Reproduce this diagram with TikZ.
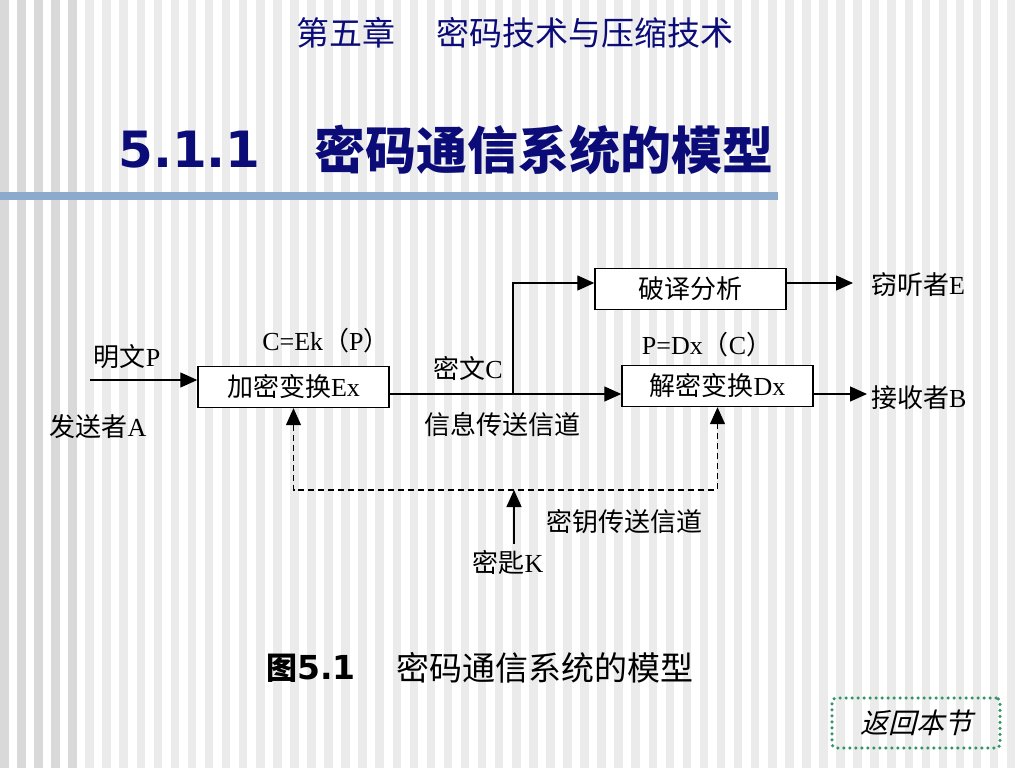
\documentclass[tikz,border=0pt]{standalone}
\usepackage{fontspec}
\setmainfont{Liberation Serif}
\newfontfamily\cjk{Noto Sans CJK SC}
\newfontfamily\cjkit[FakeSlant=0.25]{Noto Sans CJK SC}
\newfontfamily\tah{DejaVu Sans}
\usetikzlibrary{arrows.meta,calc}
\newcommand\setfs[1]{\fontsize{#1bp}{#1bp}\selectfont}
\newcommand\dfont{\setfs{26}}
\definecolor{navy}{RGB}{12,12,120}
\definecolor{stripedark}{RGB}{217,217,217}
\definecolor{stripelight}{RGB}{235,235,235}
\definecolor{barblue}{RGB}{140,170,204}
\definecolor{btngreen}{RGB}{51,150,105}
\begin{document}
\begin{tikzpicture}[x=1bp,y=-1bp,
  txt/.style={inner sep=0pt},
  box/.style={draw, line width=1.4bp, fill=white, minimum width=191bp, minimum height=41bp, inner sep=0pt, font=\dfont},
  lbl/.style={inner sep=0pt, font=\dfont},
  arr/.style={line width=1.3bp, -{Triangle[length=17bp,width=15bp]}},
  dsh/.style={line width=1.3bp, dash pattern=on 6bp off 4bp, {Triangle[length=17bp,width=15bp]}-{Triangle[length=17bp,width=15bp]}},
]
\useasboundingbox (0,0) rectangle (1024,768);
\fill[white] (0,0) rectangle (1024,768);
% background stripes
\foreach \i in {0,...,59}{
  \ifnum\i<5
    \fill[stripedark] (\i*17.0667,0) rectangle ++(8.5,768);
  \else
    \fill[stripelight] (\i*17.0667,0) rectangle ++(8.5,768);
  \fi
}
\fill[barblue] (0,192) rectangle (778,200);

% titles
\node[txt, anchor=west, text=navy, font=\cjk\setfs{33}] (chap) at (296,33) {第五章};
\node[txt, anchor=west, text=navy, font=\cjk\setfs{33}] (chapname) at (436,33) {密码技术与压缩技术};
\node[txt, anchor=west, text=navy, font=\tah\bfseries\setfs{50}] (secnum) at (118,150) {5.1.1};
\node[txt, anchor=west, text=navy, font=\cjk\bfseries\setfs{51}] (sectitle) at (314,150) {密码通信系统的模型};

% boxes
\node[box] (enc) at (293.5,387) {{\cjk 加密变换}Ex};
\node[box] (dec) at (717.5,386) {{\cjk 解密变换}Dx};
\node[box] (crk) at (690.5,289) {\cjk 破译分析};

% labels
\node[lbl] (mingwen) at (127,357) {{\cjk 明文}P};
\node[lbl] (sender) at (98,427) {{\cjk 发送者}A};
\node[lbl] (cek) at (326,341) {C=Ek{\cjk （}P{\cjk ）}};
\node[lbl] (miwen) at (468,368) {{\cjk 密文}C};
\node[lbl] (xinxi) at (502,425) {\cjk 信息传送信道};
\node[lbl] (pdx) at (707,345) {P=Dx{\cjk （}C{\cjk ）}};
\node[lbl] (miyao) at (624,522) {\cjk 密钥传送信道};
\node[lbl] (keyK) at (508,563) {{\cjk 密匙}K};
\node[lbl, anchor=west] (eaves) at (871,285) {{\cjk 窃听者}E};
\node[lbl, anchor=west] (recv) at (871,398) {{\cjk 接收者}B};

% connectors
\coordinate (src) at (90,380);
\draw[arr] (src) -- (src -| enc.west);
\draw[arr] ([yshift=-7bp]enc.east) -- ([yshift=-7bp]enc.east -| dec.west);
\coordinate (br) at (513,394);
\draw[arr] (br) |- ([yshift=6bp]crk.west);
\draw[arr, shorten >=18bp] ([yshift=6bp]crk.east) -- ([yshift=6bp]crk.east -| eaves.west);
\draw[arr, shorten >=4bp] ([yshift=-8bp]dec.east) -- ([yshift=-8bp]dec.east -| recv.west);
\coordinate (kj) at (514,490);
\draw[dsh] (enc.south) -- (enc.south |- kj) -- (dec.south |- kj) -- (dec.south);
\draw[arr] ([yshift=7bp]keyK.north -| kj) -- (kj);

% caption
\node[txt, anchor=west, font=\cjk\bfseries\setfs{31}] (tu) at (266,668) {图};
\node[txt, anchor=west, font=\tah\bfseries\setfs{33}] (capnum) at (297,668) {5.1};
\node[txt, anchor=west, font=\cjk\setfs{33}] (captitle) at (396,668) {密码通信系统的模型};

% return button
\node[draw=btngreen, line width=3.5bp, dash pattern=on 0bp off 6bp, line cap=round, rounded corners=4bp, minimum width=168bp, minimum height=50bp, inner sep=0pt, font=\cjkit\setfs{28}] (back) at (916,723) {返回本节};
\end{tikzpicture}
\end{document}
